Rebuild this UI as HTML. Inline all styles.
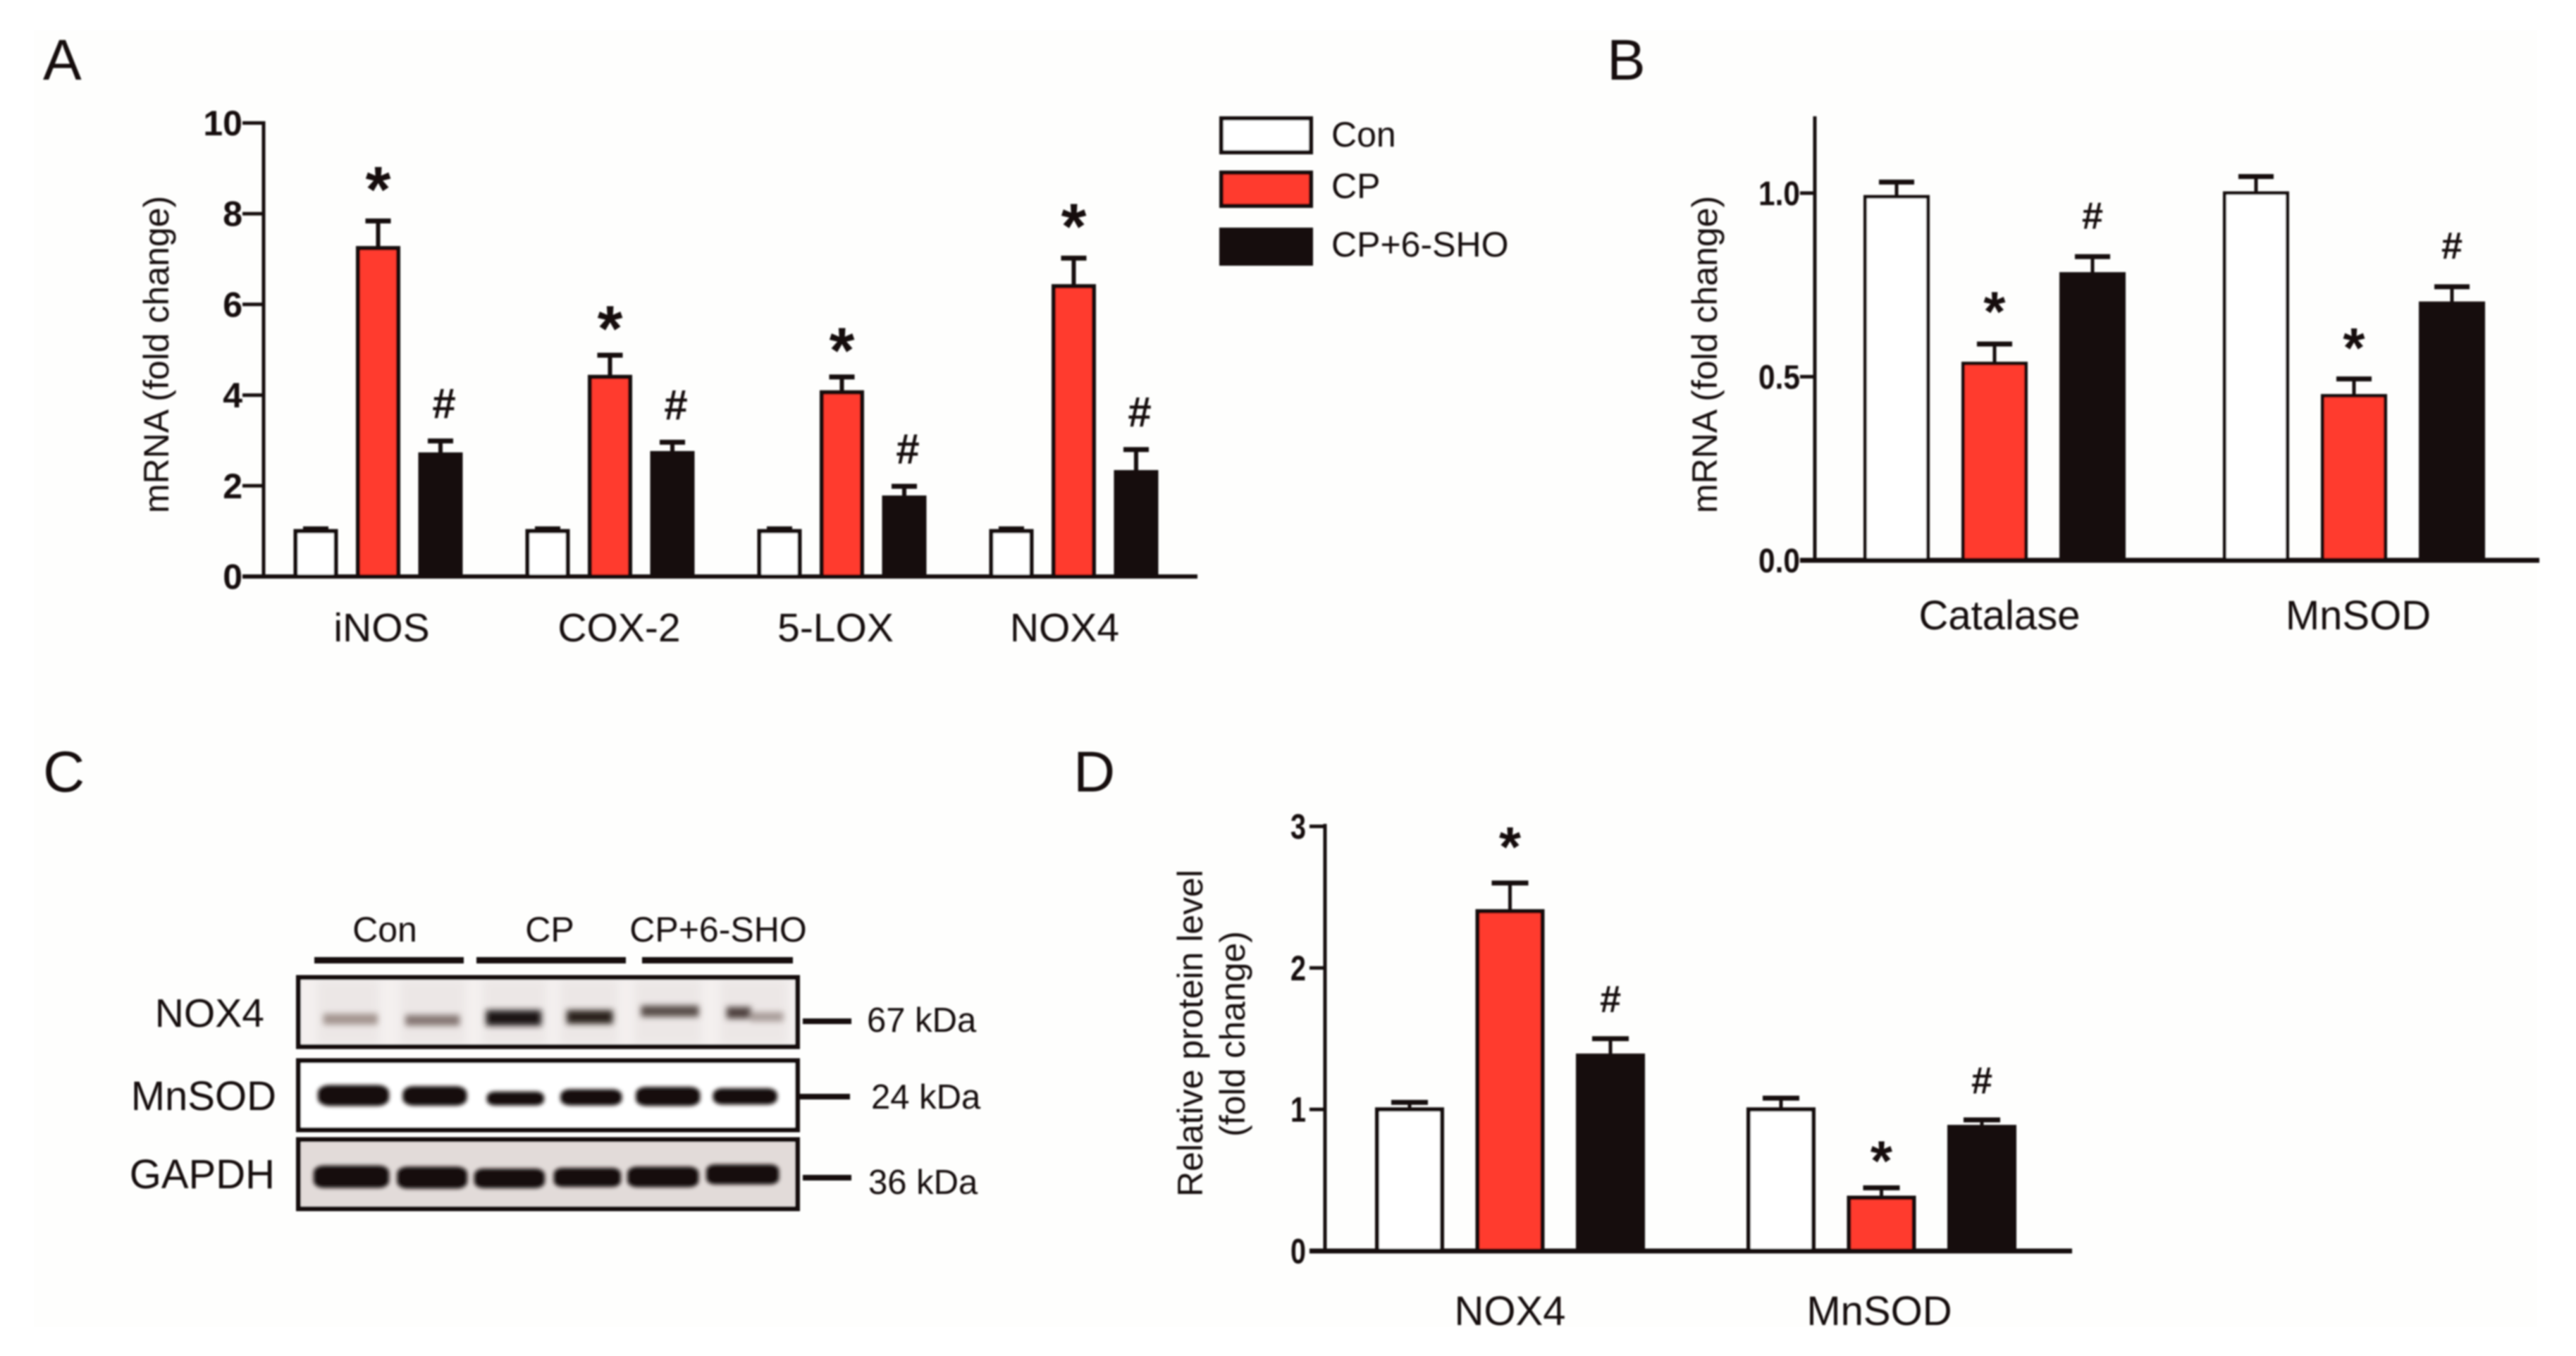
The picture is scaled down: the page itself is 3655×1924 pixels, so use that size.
<!DOCTYPE html>
<html lang="en">
<head>
<meta charset="utf-8">
<title>mRNA and protein levels</title>
<style>
html,body{margin:0;padding:0;background:#fff;}
body{width:3655px;height:1924px;overflow:hidden;}
svg{display:block;}
text{font-family:"Liberation Sans",sans-serif;fill:#15100d;}
</style>
</head>
<body>
<svg id="figure" xmlns="http://www.w3.org/2000/svg" width="3655" height="1924" viewBox="0 0 3655 1924">
<defs>
<filter id="soft" filterUnits="userSpaceOnUse" x="0" y="0" width="3655" height="1924"><feGaussianBlur stdDeviation="1.1"/></filter>
<filter id="bandBlur" filterUnits="userSpaceOnUse" x="400" y="1370" width="760" height="370"><feGaussianBlur stdDeviation="2.6"/></filter>
<filter id="bandBlurNox" filterUnits="userSpaceOnUse" x="400" y="1370" width="760" height="370"><feGaussianBlur stdDeviation="4.2"/></filter>
<filter id="bandBlurFaint" filterUnits="userSpaceOnUse" x="400" y="1370" width="760" height="370"><feGaussianBlur stdDeviation="6"/></filter>
<clipPath id="blotTopClip"><rect x="424" y="1388" width="707" height="97"/></clipPath>
</defs>
<rect width="3655" height="1924" fill="#ffffff"/>
<rect x="48" y="43" width="3552" height="1840" fill="#fefefd"/>
<g id="root" filter="url(#soft)">

<text x="61" y="113" font-size="82">A</text>
<text x="2280" y="113" font-size="82">B</text>
<text x="61" y="1123" font-size="82">C</text>
<text x="1523" y="1123" font-size="82">D</text>

<g>
<g>
<rect x="1733" y="168" width="127" height="48" fill="#ffffff" stroke="#15100d" stroke-width="6"/>
<text x="1889" y="208" font-size="50">Con</text>
</g>
<g>
<rect x="1733" y="245" width="127" height="47" fill="#ff3a2e" stroke="#15100d" stroke-width="6"/>
<text x="1889" y="281" font-size="50">CP</text>
</g>
<g>
<rect x="1730" y="323" width="133" height="54" fill="#150e0b"/>
<text x="1889" y="364" font-size="50">CP+6-SHO</text>
</g>
</g>

<g>
<text x="546" y="1336" font-size="50" text-anchor="middle">Con</text>
<text x="780" y="1336" font-size="50" text-anchor="middle">CP</text>
<text x="1019" y="1336" font-size="50" text-anchor="middle">CP+6-SHO</text>
<rect x="446" y="1358" width="212" height="9" fill="#15100d"/>
<rect x="676" y="1358" width="212" height="9" fill="#15100d"/>
<rect x="911" y="1358" width="214" height="9" fill="#15100d"/>

<rect x="423.5" y="1387" width="708" height="98" fill="#f4f0ef"/>
<g clip-path="url(#blotTopClip)">
<g filter="url(#bandBlurFaint)" fill="#ece7e6">
<rect x="450" y="1390" width="88" height="92"/>
<rect x="568" y="1390" width="92" height="92"/>
<rect x="685" y="1390" width="90" height="92"/>
<rect x="795" y="1390" width="82" height="92"/>
<rect x="900" y="1390" width="95" height="92"/>
<rect x="1022" y="1390" width="95" height="92"/>
</g>
</g>
<g filter="url(#bandBlurNox)">
<g transform="translate(400,1370) scale(0.4975,0.3333)">
<rect x="118" y="205" width="155" height="46" fill="#a3948f"/>
<rect x="352" y="210" width="155" height="46" fill="#857773"/>
<rect x="582" y="190" width="158" height="66" fill="#1f1714"/>
<rect x="812" y="190" width="132" height="58" fill="#2a201d"/>
<rect x="1024" y="170" width="165" height="48" fill="#594d49"/>
<rect x="1268" y="176" width="70" height="50" fill="#4f4340"/>
<rect x="1335" y="198" width="95" height="40" fill="#a89c99"/>
</g>
</g>
<rect x="423.5" y="1387" width="708" height="98" fill="none" stroke="#15100d" stroke-width="7"/>

<rect x="423.5" y="1505" width="708" height="98" fill="#ffffff"/>
<g filter="url(#bandBlur)" fill="#120b08">
<g transform="translate(400,1370) scale(0.4975,0.3333)">
<rect x="102" y="508" width="204" height="90" rx="34"/>
<rect x="344" y="513" width="184" height="84" rx="32"/>
<rect x="584" y="536" width="164" height="60" rx="24"/>
<rect x="794" y="526" width="176" height="70" rx="28"/>
<rect x="1009" y="516" width="184" height="82" rx="30"/>
<rect x="1229" y="522" width="184" height="70" rx="28"/>
</g>
</g>
<rect x="423.5" y="1505" width="708" height="98" fill="none" stroke="#15100d" stroke-width="7"/>

<rect x="423.5" y="1617" width="708" height="98" fill="#e2dbd9"/>
<g filter="url(#bandBlur)" fill="#120b08">
<g transform="translate(400,1370) scale(0.4975,0.3333)">
<rect x="90" y="851" width="216" height="96" rx="30"/>
<rect x="328" y="856" width="201" height="94" rx="30"/>
<rect x="548" y="864" width="202" height="84" rx="28"/>
<rect x="775" y="861" width="192" height="82" rx="26"/>
<rect x="985" y="856" width="204" height="88" rx="28"/>
<rect x="1210" y="846" width="208" height="86" rx="26"/>
</g>
</g>
<rect x="423.5" y="1617" width="708" height="98" fill="none" stroke="#15100d" stroke-width="7"/>

<text x="375" y="1457" font-size="57" text-anchor="end">NOX4</text>
<text x="392" y="1575" font-size="58" text-anchor="end">MnSOD</text>
<text x="390" y="1686" font-size="58" text-anchor="end">GAPDH</text>
<rect x="1139" y="1445" width="69" height="8" fill="#15100d"/>
<rect x="1134" y="1552" width="72" height="8" fill="#15100d"/>
<rect x="1139" y="1667" width="69" height="8" fill="#15100d"/>
<text x="1230" y="1464" font-size="49">67 kDa</text>
<text x="1236" y="1573" font-size="49">24 kDa</text>
<text x="1232" y="1694" font-size="49">36 kDa</text>
</g>

<g id="panel-a"></g>
<g id="panel-b"></g>
<g id="panel-d"></g>
</g>
</svg>

<script>
// Panel A data
const aCategories = ['iNOS', 'COX-2', '5-LOX', 'NOX4'];
const aCon = [1.0, 1.0, 1.0, 1.0];
const aConErr = [0.05, 0.05, 0.05, 0.05];
const aCP = [7.24, 4.4, 4.06, 6.4];
const aCPErr = [0.6, 0.48, 0.34, 0.62];
const aSho = [2.69, 2.72, 1.74, 2.3];
const aShoErr = [0.3, 0.24, 0.25, 0.5];
const aTicks = [0, 2, 4, 6, 8, 10];
const aTickLabels = ['0', '2', '4', '6', '8', '10'];

// Panel B data
const bCategories = ['Catalase', 'MnSOD'];
const bCon = [0.99, 1.0];
const bConErr = [0.04, 0.045];
const bCP = [0.536, 0.448];
const bCPErr = [0.053, 0.046];
const bSho = [0.78, 0.70];
const bShoErr = [0.047, 0.045];
const bTicks = [0, 0.5, 1];
const bTickLabels = ['0.0', '0.5', '1.0'];

// Panel D data
const dCategories = ['NOX4', 'MnSOD'];
const dCon = [1.0, 1.0];
const dConErr = [0.05, 0.08];
const dCP = [2.4, 0.376];
const dCPErr = [0.2, 0.07];
const dSho = [1.38, 0.876];
const dShoErr = [0.12, 0.05];
const dTicks = [0, 1, 2, 3];
const dTickLabels = ['0', '1', '2', '3'];

// Shared series information
const seriesNames = ['con', 'cp', 'cp-6-sho'];
const seriesMarks = ['', '*', '#'];

const SVGNS = 'http://www.w3.org/2000/svg';
const INK = '#15100d';
const RED = '#ff3a2e';
const WHITE = '#ffffff';

function el(tag, attrs, parent, txt) {
  const n = document.createElementNS(SVGNS, tag);
  for (const k in attrs) n.setAttribute(k, attrs[k]);
  if (txt !== undefined) n.textContent = txt;
  parent.appendChild(n);
  return n;
}

function drawPanel(cfg) {
  const root = document.getElementById(cfg.id);
  const y = v => cfg.y0 - (v / cfg.max) * (cfg.y0 - cfg.yTop);
  const x = (g, s) => cfg.x0 + g * cfg.groupStep + s * cfg.barStep;
  const series = [
    { v: cfg.con, e: cfg.conErr, fill: WHITE },
    { v: cfg.cp, e: cfg.cpErr, fill: RED },
    { v: cfg.sho, e: cfg.shoErr, fill: INK }
  ];

  series.forEach((s, si) => {
    cfg.categories.forEach((cat, g) => {
      const cx = x(g, si);
      const top = y(s.v[g]);
      const errTop = y(s.v[g] + s.e[g]);

      const stem = el('line', { x1: cx, x2: cx, y1: top, y2: errTop, stroke: INK, 'stroke-width': cfg.stem }, root);
      
      

      const cap = el('line', { x1: cx - cfg.cap / 2, x2: cx + cfg.cap / 2, y1: errTop, y2: errTop, stroke: INK, 'stroke-width': cfg.capH }, root);
      
      

      const w = cfg.barW - cfg.stroke;
      const bar = el('rect', { x: cx - w / 2, y: top, width: w, height: Math.max(0, cfg.y0 - top), fill: s.fill, stroke: INK, 'stroke-width': cfg.stroke }, root);
      
      

      const mark = seriesMarks[si];
      if (mark) {
        const centre = errTop - (mark === '*' ? cfg.starGap[g] : cfg.hashGap);
        const fs = mark === '*' ? cfg.starSize : cfg.hashSize;
        const base = mark === '*' ? centre + 0.565 * fs : centre + 0.34 * fs;
        const t = el('text', { x: cx + (mark === '#' ? cfg.hashDx : 0), y: base, 'font-size': fs, 'font-weight': 'bold', 'text-anchor': 'middle' }, root, mark);
        
        
      }
    });
  });

  const yAxis = el('line', { x1: cfg.axisX, x2: cfg.axisX, y1: cfg.axisTop, y2: cfg.y0 + 2, stroke: INK, 'stroke-width': cfg.axisW }, root);
  
  

  const xAxis = el('line', { x1: cfg.axisLeft, x2: cfg.axisRight, y1: cfg.y0, y2: cfg.y0, stroke: INK, 'stroke-width': cfg.xAxisW }, root);
  
  

  cfg.ticks.forEach((tv, i) => {
    const ty = y(tv);
    const tick = el('line', { x1: cfg.axisLeft, x2: cfg.axisX, y1: ty, y2: ty, stroke: INK, 'stroke-width': cfg.axisW }, root);
    
    

    const label = cfg.tickLabels[i];
    const attrs = { x: cfg.axisLeft - cfg.tickPad, y: ty + 0.35 * cfg.tickSize, 'font-size': cfg.tickSize, 'font-weight': 'bold', 'text-anchor': 'end' };
    if (cfg.tickWidth) {
      attrs.textLength = cfg.tickWidth;
      attrs.lengthAdjust = 'spacingAndGlyphs';
    }
    const t = el('text', attrs, root, label);
    
    
  });

  cfg.categories.forEach((cat, g) => {
    const t = el('text', { x: x(g, 1) + cfg.catNudge[g], y: cfg.catY, 'font-size': cfg.catSize, 'text-anchor': 'middle' }, root, cat);
    
    
  });

  cfg.yTitles.forEach(yt => {
    const t = el('text', { x: 0, y: 0, 'font-size': 50, 'text-anchor': 'middle', transform: 'translate(' + yt.x + ',' + yt.y + ') rotate(-90)' }, root, yt.text);
    
    
  });
}

drawPanel({
  id: 'panel-a', categories: aCategories,
  con: aCon, conErr: aConErr, cp: aCP, cpErr: aCPErr, sho: aSho, shoErr: aShoErr,
  ticks: aTicks, tickLabels: aTickLabels, max: 10,
  y0: 818, yTop: 174.5, axisTop: 172, axisX: 374, axisLeft: 344, axisRight: 1699,
  axisW: 5, xAxisW: 6, tickSize: 50, tickPad: 0, tickWidth: 0,
  x0: 448, groupStep: 329, barStep: 88.5, barW: 63, stroke: 6,
  stem: 6, cap: 36, capH: 7, starGap: [65, 58, 58, 65], hashGap: 53, hashDx: 5, starSize: 92, hashSize: 60,
  catY: 910, catSize: 57, catNudge: [5, 13, -9, -13],
  yTitles: [{ x: 239, y: 503, text: 'mRNA (fold change)' }]
});

drawPanel({
  id: 'panel-b', categories: bCategories,
  con: bCon, conErr: bConErr, cp: bCP, cpErr: bCPErr, sho: bSho, shoErr: bShoErr,
  ticks: bTicks, tickLabels: bTickLabels, max: 1,
  y0: 795, yTop: 274, axisTop: 165, axisX: 2575, axisLeft: 2554, axisRight: 3603,
  axisW: 5, xAxisW: 7, tickSize: 48, tickPad: 0, tickWidth: 59,
  x0: 2691, groupStep: 510, barStep: 139, barW: 94, stroke: 5,
  stem: 5, cap: 50, capH: 7, starGap: [64, 62], hashGap: 58, hashDx: 0, starSize: 80, hashSize: 54,
  catY: 893, catSize: 58, catNudge: [7, 6],
  yTitles: [{ x: 2436, y: 503, text: 'mRNA (fold change)' }]
});

drawPanel({
  id: 'panel-d', categories: dCategories,
  con: dCon, conErr: dConErr, cp: dCP, cpErr: dCPErr, sho: dSho, shoErr: dShoErr,
  ticks: dTicks, tickLabels: dTickLabels, max: 3,
  y0: 1775, yTop: 1172.5, axisTop: 1169, axisX: 1880, axisLeft: 1858, axisRight: 2940,
  axisW: 5, xAxisW: 7, tickSize: 50, tickPad: 5, tickWidth: 22,
  x0: 2000, groupStep: 527, barStep: 142.5, barW: 98, stroke: 6,
  stem: 5, cap: 52, capH: 7, starGap: [69, 56], hashGap: 56, hashDx: 0, starSize: 80, hashSize: 54,
  catY: 1880, catSize: 58, catNudge: [0, -3],
  yTitles: [
    { x: 1706, y: 1466, text: 'Relative protein level' },
    { x: 1766, y: 1467, text: '(fold change)' }
  ]
});
</script>
</body>
</html>
